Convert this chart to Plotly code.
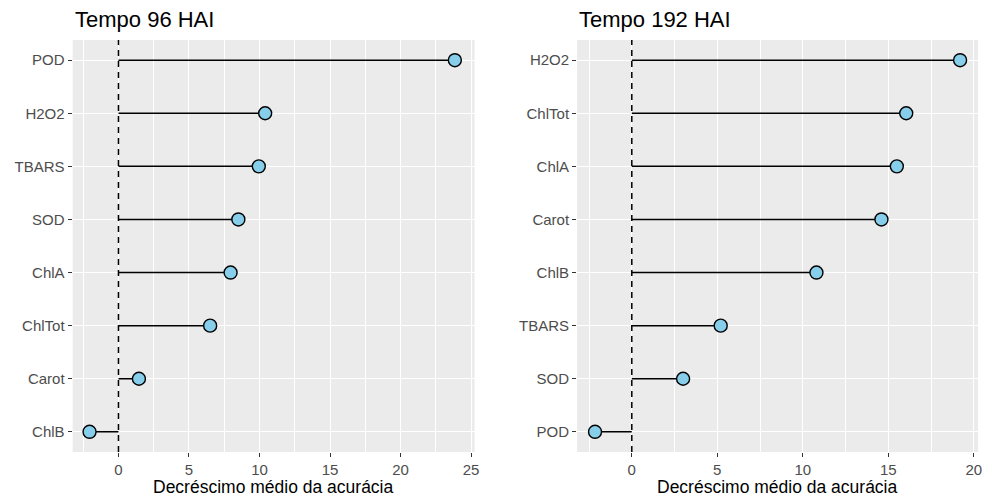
import plotly.graph_objects as go

# Panel 1: Tempo 96 HAI (top to bottom)
vars_96 = ["POD", "H2O2", "TBARS", "SOD", "ChlA", "ChlTot", "Carot", "ChlB"]
mda_96 = [23.85, 10.4, 9.95, 8.5, 7.95, 6.5, 1.45, -2.05]

# Panel 2: Tempo 192 HAI (top to bottom)
vars_192 = ["H2O2", "ChlTot", "ChlA", "Carot", "ChlB", "TBARS", "SOD", "POD"]
mda_192 = [19.2, 16.05, 15.5, 14.6, 10.8, 5.2, 3.0, -2.15]

FONT = "Liberation Sans, Arial, sans-serif"
W, H = 992, 502

fig = go.Figure()


def lollipop(names, vals, xa, ya):
    xs, ys = [], []
    for n, v in zip(names, vals):
        xs += [0, v, None]
        ys += [n, n, None]
    fig.add_trace(go.Scatter(x=xs, y=ys, mode="lines", xaxis=xa, yaxis=ya,
                             line=dict(color="black", width=1.5),
                             showlegend=False, hoverinfo="skip"))
    fig.add_trace(go.Scatter(x=vals, y=names, mode="markers", xaxis=xa, yaxis=ya,
                             marker=dict(size=13, color="#87CEEB",
                                         line=dict(color="black", width=1.4)),
                             showlegend=False))


lollipop(vars_96, mda_96, "x", "y")
lollipop(vars_192, mda_192, "x2", "y2")

ydom = [1 - 452 / H, 1 - 40 / H]
dom1 = [73 / W, 477 / W]
dom2 = [580 / W, 983 / W]

xcommon = dict(showgrid=True, gridcolor="white", gridwidth=1.2, zeroline=False,
               ticks="outside", ticklen=4, tickwidth=1.2, tickcolor="#333333",
               tickfont=dict(size=15, color="#4D4D4D", family=FONT),
               minor=dict(showgrid=True, gridcolor="white", gridwidth=0.6, dtick=2.5),
               dtick=5, tick0=0, showline=False)
ycommon = dict(showgrid=True, gridcolor="white", gridwidth=1.2, zeroline=False,
               ticks="outside", ticklen=4, tickwidth=1.2, tickcolor="#333333",
               tickfont=dict(size=15, color="#4D4D4D", family=FONT),
               range=[7.38, -0.38], showline=False)

fig.update_layout(
    width=W, height=H,
    margin=dict(l=0, r=0, t=0, b=0),
    paper_bgcolor="white", plot_bgcolor="#EBEBEB",
    font=dict(family=FONT),
    xaxis=dict(domain=dom1, anchor="y", range=[-3.25, 25.25], **xcommon),
    yaxis=dict(domain=ydom, anchor="x", categoryorder="array",
               categoryarray=vars_96, **ycommon),
    xaxis2=dict(domain=dom2, anchor="y2", range=[-3.2, 20.25], **xcommon),
    yaxis2=dict(domain=ydom, anchor="x2", categoryorder="array",
                categoryarray=vars_192, **ycommon),
)

# dashed reference line at zero
for xr, yr in [("x", "y domain"), ("x2", "y2 domain")]:
    fig.add_shape(type="line", xref=xr, yref=yr, x0=0, x1=0, y0=0, y1=1,
                  line=dict(color="black", width=1.5, dash="6px,5px"))

for dom, title in [(dom1, "Tempo 96 HAI"), (dom2, "Tempo 192 HAI")]:
    fig.add_annotation(text=title, xref="paper", yref="paper", x=dom[0], y=1 - 5 / H,
                       xanchor="left", yanchor="top", showarrow=False,
                       font=dict(size=22, color="black", family=FONT))
    fig.add_annotation(text="Decréscimo médio da acurácia", xref="paper", yref="paper",
                       x=(dom[0] + dom[1]) / 2, y=1 - 475 / H,
                       xanchor="center", yanchor="top", showarrow=False,
                       font=dict(size=17.5, color="black", family=FONT))

fig.write_html("out.html", config={"displayModeBar": False},
               post_script="document.body.style.margin='0';")
